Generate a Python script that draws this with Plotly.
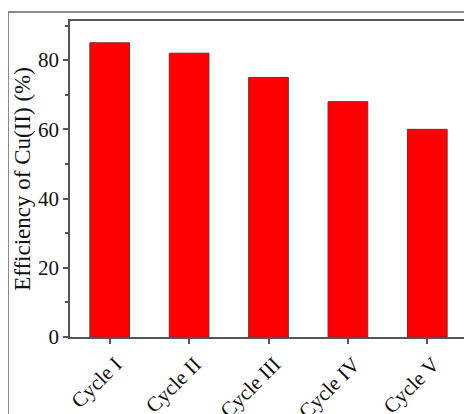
import plotly.graph_objects as go

categories = ["Cycle I", "Cycle II", "Cycle III", "Cycle IV", "Cycle V"]
efficiency = [85, 82, 75, 68, 60]
y_ticks = [0, 20, 40, 60, 80]

# page body has an 8px margin, so the figure is sized/placed to compensate
W, H = 464, 406
ml, mr, mt, mb = 62, 5, 13, 77
pw, ph = W - ml - mr, H - mt - mb

fig = go.Figure(go.Bar(
    x=categories, y=efficiency, width=0.5,
    marker=dict(color="#ff0000", line=dict(color="#7a2a2a", width=1)),
))

axis_common = dict(
    showline=True, linecolor="#555555", linewidth=1.5, mirror=True,
    ticks="outside", tickcolor="#555555", tickwidth=1.5, ticklen=5,
    showgrid=False, zeroline=False, automargin=False,
    tickfont=dict(family="Liberation Serif", size=21, color="#111111"),
)

fig.update_xaxes(**axis_common, range=[-0.5, 4.5], tickangle=-45, ticklabelshift=6)
fig.update_yaxes(**axis_common, range=[0, 91.3], tickvals=y_ticks,
                 minor=dict(ticks="outside", ticklen=3, tickcolor="#555555", dtick=10, tick0=0, showgrid=False),
                 title=dict(text="Efficiency of Cu(II) (%)", standoff=1,
                            font=dict(family="Liberation Serif", size=23, color="#111111")))

x0 = -ml / pw
y1 = 1 + (mt - 4) / ph
fig.add_shape(type="rect", xref="paper", yref="paper",
              x0=x0, x1=1.2, y0=-0.5, y1=y1,
              line=dict(color="#666666", width=1.5), layer="below")

fig.update_layout(
    width=W, height=H, margin=dict(l=ml, r=mr, t=mt, b=mb),
    plot_bgcolor="white", paper_bgcolor="white", showlegend=False,
)

fig.write_html("out.html")
